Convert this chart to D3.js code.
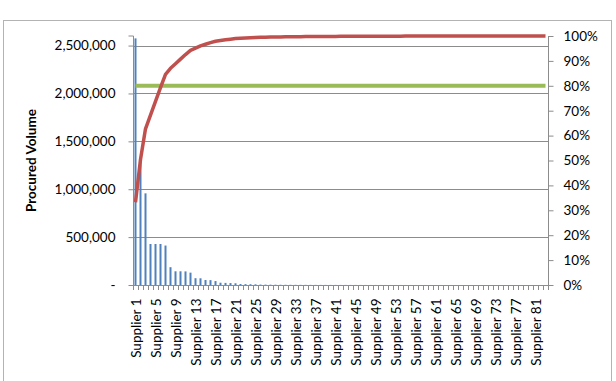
<!DOCTYPE html>
<html>
<head>
<meta charset="utf-8">
<script src="https://cdn.jsdelivr.net/npm/d3@7"></script>
<style>
  body { margin: 0; background: #fff; }
  svg { display: block; font-family: Lato, "Open Sans", sans-serif; }
</style>
</head>
<body>
<script>
// procured volume per supplier, sorted descending
const volumes = [
  2575000, 1330000, 957000, 428000, 428000, 428000, 412000, 186000, 143000, 143000,
  142000, 129000, 71000, 70000, 52000, 51000, 41000, 24000, 22000, 20000,
  18000, 10000, 9000, 8000, 7000, 4500, 4000, 3500, 3000, 2600,
  2200, 2000, 1800, 1600, 1500, 1400, 1300, 1200, 1100, 1000,
  950, 900, 850, 800, 750, 700, 650, 600, 560, 520,
  480, 450, 420, 390, 360, 340, 320, 300, 280, 260,
  240, 220, 200, 185, 170, 155, 140, 125, 110, 100,
  90, 80, 70, 60, 50, 45, 40, 35, 30, 25, 20, 15, 10
]
const suppliers = volumes.map((d, i) => 'Supplier ' + (i + 1))
const volumeTicks = [0, 500000, 1000000, 1500000, 2000000, 2500000]
const pctTicks = [0, 0.1, 0.2, 0.3, 0.4, 0.5, 0.6, 0.7, 0.8, 0.9, 1]
const target = 0.8
const yTitle = 'Procured Volume'

let width = 616
let height = 381
let plot = { left: 133, right: 548, top: 36, bottom: 285 }

const total = d3.sum(volumes)
let run = 0
const cumulative = volumes.map(v => { run += v; return run / total })

const svg = d3.select('body')
  .append('svg')
  .attr('width', width)
  .attr('height', height)

// chart border (bottom runs off the picture)
svg.append('rect')
  .attr('x', 3.5).attr('y', 20.5)
  .attr('width', 608).attr('height', 400)
  .attr('fill', '#fff')
  .attr('stroke', '#b3b3b3')

const x = d3.scaleBand()
  .domain(suppliers)
  .range([plot.left, plot.right])

const y = d3.scaleLinear()
  .domain([0, 2600000])
  .range([plot.bottom, plot.top])

const yPct = d3.scaleLinear()
  .domain([0, 1])
  .range([plot.bottom, plot.top])

// gridlines
svg.append('g')
  .selectAll('line')
  .data(volumeTicks.slice(1))
  .join('line')
  .attr('x1', plot.left).attr('x2', plot.right)
  .attr('y1', d => Math.round(y(d)) + 0.5)
  .attr('y2', d => Math.round(y(d)) + 0.5)
  .attr('stroke', '#8c8c8c')

// bars
svg.append('g')
  .selectAll('rect')
  .data(volumes)
  .join('rect')
  .attr('x', (d, i) => x(suppliers[i]) + x.bandwidth() / 2 - 1)
  .attr('width', 2)
  .attr('y', d => y(d))
  .attr('height', d => plot.bottom - y(d))
  .attr('fill', '#4F81BD')

const cx = (d, i) => x(suppliers[i]) + x.bandwidth() / 2

// 80% line
svg.append('path')
  .datum(volumes.map(() => target))
  .attr('fill', 'none')
  .attr('stroke', '#9BBB59')
  .attr('stroke-width', 4)
  .attr('d', d3.line().x(cx).y(d => yPct(d)))

// cumulative line
svg.append('path')
  .datum(cumulative)
  .attr('fill', 'none')
  .attr('stroke', '#C0504D')
  .attr('stroke-width', 3.5)
  .attr('stroke-linejoin', 'round')
  .attr('d', d3.line().x(cx).y(d => yPct(d)))

// left axis
const yAxis = d3.axisLeft(y)
  .tickValues(volumeTicks)
  .tickSize(5)
  .tickPadding(13)
  .tickFormat(d => d === 0 ? '-' : d3.format(',')(d))

const gy = svg.append('g')
  .attr('transform', `translate(${plot.left + 0.5},0)`)
  .call(yAxis)
gy.select('.domain').attr('stroke', '#8c8c8c').attr('d', `M-5,${plot.top}H0V${plot.bottom}`)

// right axis
const pAxis = d3.axisRight(yPct)
  .tickValues(pctTicks)
  .tickSize(5)
  .tickPadding(10)
  .tickFormat(d3.format('.0%'))

const gp = svg.append('g')
  .attr('transform', `translate(${plot.right + 0.5},0)`)
  .call(pAxis)
gp.select('.domain').attr('stroke', '#8c8c8c').attr('d', `M0,${plot.top}V${plot.bottom}`)

// category axis
const xAxis = d3.axisBottom(x)
  .tickValues(suppliers.filter((d, i) => i % 4 === 0))
  .tickSize(0)
  .tickPadding(0)

const gx = svg.append('g')
  .attr('transform', `translate(0,${plot.bottom + 0.5})`)
  .call(xAxis)
gx.select('.domain').attr('stroke', '#8c8c8c').attr('d', `M${plot.left},0H${plot.right}`)
gx.selectAll('.tick text')
  .attr('transform', 'rotate(-90)')
  .attr('text-anchor', 'end')
  .attr('dy', '0.38em')
  .attr('x', -13)
  .attr('y', 0)

// category tick marks between bars
svg.append('g')
  .selectAll('line')
  .data(suppliers.concat(['end']))
  .join('line')
  .attr('x1', (d, i) => Math.round(plot.left + i * x.bandwidth()) + 0.5)
  .attr('x2', (d, i) => Math.round(plot.left + i * x.bandwidth()) + 0.5)
  .attr('y1', plot.bottom)
  .attr('y2', plot.bottom + 5)
  .attr('stroke', '#8c8c8c')

svg.selectAll('.tick line').attr('stroke', '#8c8c8c')
svg.selectAll('.tick text')
  .attr('font-size', '13.5px')
  .attr('font-family', 'Lato, "Open Sans", sans-serif')
  .attr('fill', '#000')

// axis title
svg.append('text')
  .attr('transform', `translate(31,${(plot.top + plot.bottom) / 2}) rotate(-90)`)
  .attr('text-anchor', 'middle')
  .attr('dy', '0.35em')
  .attr('font-size', '13.5px')
  .attr('font-weight', 'bold')
  .attr('fill', '#000')
  .text(yTitle)
</script>
</body>
</html>
